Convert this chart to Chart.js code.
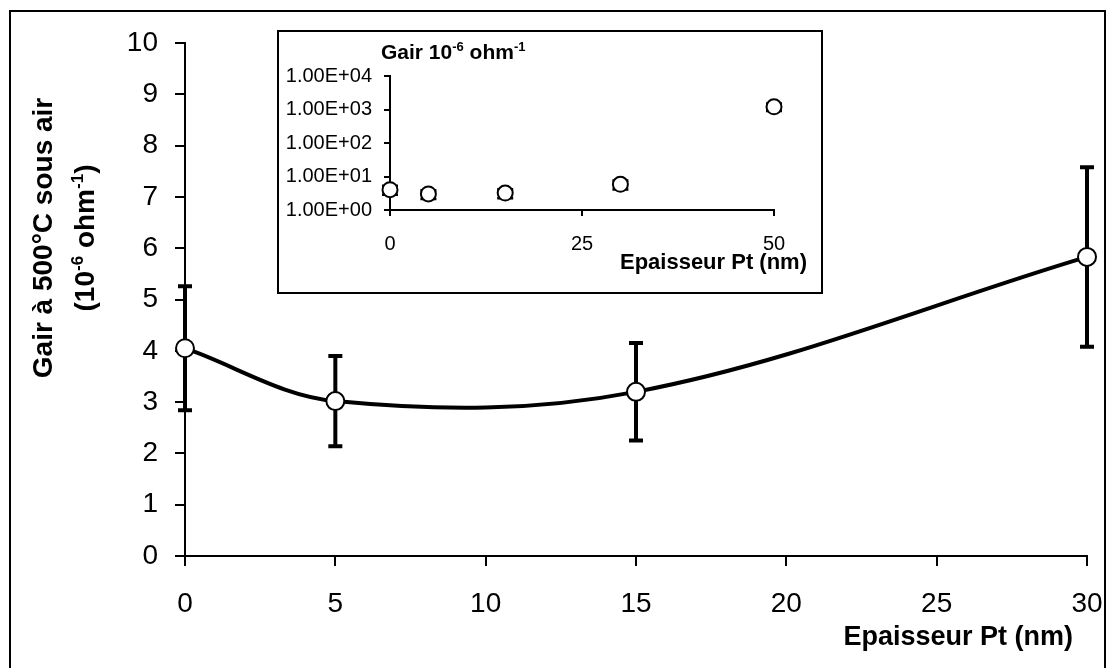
<!DOCTYPE html>
<html>
<head>
<meta charset="utf-8">
<script src="https://cdn.jsdelivr.net/npm/chart.js@4.4.0/dist/chart.umd.min.js"></script>
<style>
  html, body { margin: 0; padding: 0; background: #fff; }
  #wrap { position: relative; width: 1111px; height: 668px; overflow: hidden; }
  #frame { position: absolute; left: 9px; top: 10px; width: 1097px; height: 680px; border: 2px solid #000; box-sizing: border-box; }
  #main { position: absolute; left: 0; top: 0; }
  #insetBox { position: absolute; left: 277px; top: 30px; width: 542px; height: 260px; border: 2px solid #000; background: #fff; }
  #inset { position: absolute; left: 0; top: 0; }
</style>
</head>
<body>
<div id="wrap">
  <div id="frame"></div>
  <canvas id="main" width="1111" height="668"></canvas>
  <div id="insetBox"><canvas id="inset" width="542" height="260"></canvas></div>
</div>
<script>
const FONT = '"Liberation Sans", Arial, sans-serif'

// main chart data (Pt thickness in nm, Gair in 10^-6 ohm^-1)
const thickness = [0, 5, 15, 30]
const gair = [4.05, 3.02, 3.2, 5.83]
const gairErr = [1.21, 0.88, 0.95, 1.75]

// inset data (log scale)
const insetThickness = [0, 5, 15, 30, 50]
const insetGair = [4.05, 3.02, 3.2, 5.83, 1200]
const insetErr = [1.21, 0.88, 0.95, 1.75, 300]
const insetYTicks = [1, 10, 100, 1000, 10000]
const insetXTicks = [0, 25, 50]

Chart.defaults.font.family = FONT
Chart.defaults.color = "#000"

// draws text with superscript parts, optionally rotated
function drawRich(ctx, parts, x, y, size, align, angle) {
  ctx.save()
  ctx.translate(x, y)
  ctx.rotate(angle || 0)
  ctx.fillStyle = "#000"
  ctx.textBaseline = "alphabetic"
  ctx.textAlign = "left"
  const fontFor = (sup) => `bold ${sup ? Math.round(size * 0.62) : size}px ${FONT}`
  let total = 0
  parts.forEach(p => { ctx.font = fontFor(p.sup); total += ctx.measureText(p.text).width })
  let cx = align === "center" ? -total / 2 : align === "right" ? -total : 0
  parts.forEach(p => {
    ctx.font = fontFor(p.sup)
    ctx.fillText(p.text, cx, p.sup ? -size * 0.38 : 0)
    cx += ctx.measureText(p.text).width
  })
  ctx.restore()
}

const errorBars = {
  id: "errorBars",
  beforeDatasetsDraw(chart, args, opts) {
    const { ctx, scales: { x, y } } = chart
    const ds = chart.data.datasets[0].data
    ctx.save()
    ctx.strokeStyle = "#000"
    ctx.lineWidth = opts.lineWidth
    ctx.lineCap = "butt"
    ds.forEach((pt, i) => {
      const px = x.getPixelForValue(pt.x)
      const top = y.getPixelForValue(pt.y + opts.err[i])
      const bot = y.getPixelForValue(pt.y - opts.err[i])
      const half = opts.capWidth / 2
      ctx.beginPath()
      ctx.moveTo(px, top)
      ctx.lineTo(px, bot)
      ctx.moveTo(px - half, top)
      ctx.lineTo(px + half, top)
      ctx.moveTo(px - half, bot)
      ctx.lineTo(px + half, bot)
      ctx.stroke()
    })
    ctx.restore()
  }
}

const mainTitles = {
  id: "mainTitles",
  afterDraw(chart) {
    const ctx = chart.ctx
    drawRich(ctx, [{ text: "Gair à 500°C sous air" }], 52, 238, 28, "center", -Math.PI / 2)
    drawRich(ctx, [
      { text: "(10" }, { text: "-6", sup: true }, { text: " ohm" }, { text: "-1", sup: true }, { text: ")" }
    ], 94, 238, 28, "center", -Math.PI / 2)
    drawRich(ctx, [{ text: "Epaisseur Pt (nm)" }], 1073, 645, 27, "right")
  }
}

const insetTitles = {
  id: "insetTitles",
  afterDraw(chart) {
    const ctx = chart.ctx
    drawRich(ctx, [
      { text: "Gair 10" }, { text: "-6", sup: true }, { text: " ohm" }, { text: "-1", sup: true }
    ], 102, 27, 21, "left")
    drawRich(ctx, [{ text: "Epaisseur Pt (nm)" }], 528, 237, 22, "right")
  }
}

new Chart(document.getElementById("main"), {
  type: "scatter",
  data: {
    datasets: [{
      data: thickness.map((t, i) => ({ x: t, y: gair[i] })),
      showLine: true,
      tension: 0.35,
      borderColor: "#000",
      borderWidth: 4,
      pointRadius: 9,
      pointBorderWidth: 2,
      pointBackgroundColor: "#fff",
      pointBorderColor: "#000",
      clip: false
    }]
  },
  options: {
    responsive: false,
    animation: false,
    events: [],
    layout: { padding: { left: 10, top: 43, right: 24, bottom: 0 } },
    plugins: {
      legend: { display: false },
      tooltip: { enabled: false },
      errorBars: { err: gairErr, lineWidth: 4, capWidth: 14 }
    },
    scales: {
      x: {
        type: "linear", min: 0, max: 30,
        ticks: { stepSize: 5, font: { size: 28 }, padding: 21, maxRotation: 0 },
        grid: { drawOnChartArea: false, tickLength: 10, color: "#000", lineWidth: 2 },
        border: { color: "#000", width: 2 },
        afterFit: (s) => { s.height = 112; s.paddingRight = 0; s.paddingLeft = 0 }
      },
      y: {
        min: 0, max: 10,
        ticks: { stepSize: 1, font: { size: 28 }, padding: 17 },
        grid: { drawOnChartArea: false, tickLength: 10, color: "#000", lineWidth: 2 },
        border: { color: "#000", width: 2 },
        afterFit: (s) => { s.width = 175 }
      }
    }
  },
  plugins: [errorBars, mainTitles]
})

new Chart(document.getElementById("inset"), {
  type: "scatter",
  data: {
    datasets: [{
      data: insetThickness.map((t, i) => ({ x: t, y: insetGair[i] })),
      showLine: false,
      pointRadius: 7.5,
      pointBorderWidth: 2,
      pointBackgroundColor: "#fff",
      pointBorderColor: "#000",
      clip: false
    }]
  },
  options: {
    responsive: false,
    animation: false,
    events: [],
    layout: { padding: { left: 0, top: 44, right: 47, bottom: 0 } },
    plugins: {
      legend: { display: false },
      tooltip: { enabled: false },
      errorBars: { err: insetErr, lineWidth: 2.5, capWidth: 16 }
    },
    scales: {
      x: {
        type: "linear", min: 0, max: 50,
        afterBuildTicks: (s) => { s.ticks = insetXTicks.map(v => ({ value: v })) },
        ticks: { font: { size: 20 }, padding: 16, maxRotation: 0 },
        grid: { drawOnChartArea: false, tickLength: 6, color: "#000", lineWidth: 2 },
        border: { color: "#000", width: 2 },
        afterFit: (s) => { s.height = 82; s.paddingRight = 0; s.paddingLeft = 0 }
      },
      y: {
        type: "logarithmic", min: 1, max: 10000,
        afterBuildTicks: (s) => { s.ticks = insetYTicks.map(v => ({ value: v })) },
        ticks: {
          font: { size: 20 }, padding: 12,
          callback: (v) => "1.00E+" + String(Math.round(Math.log10(v))).padStart(2, "0")
        },
        grid: { drawOnChartArea: false, tickLength: 6, color: "#000", lineWidth: 2 },
        border: { color: "#000", width: 2 },
        afterFit: (s) => { s.width = 111 }
      }
    }
  },
  plugins: [errorBars, insetTitles]
})
</script>
</body>
</html>
